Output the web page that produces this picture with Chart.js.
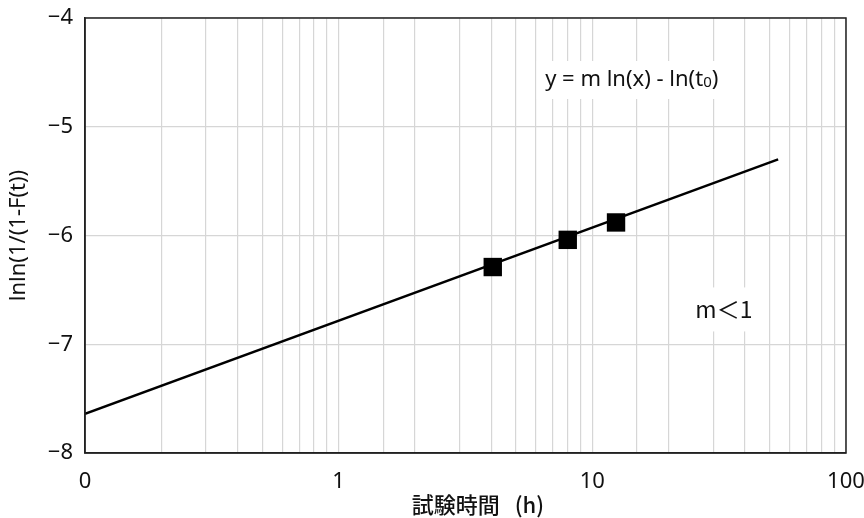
<!DOCTYPE html>
<html>
<head>
<meta charset="utf-8">
<script src="https://cdn.jsdelivr.net/npm/chart.js@4/dist/chart.umd.min.js"></script>
<style>
  html, body { margin: 0; padding: 0; background: #fff; }
  #wrap { width: 864px; height: 518px; }
</style>
</head>
<body>
<div id="wrap"><canvas id="chart"></canvas></div>
<script>
// fitted line (two end points)
const lineX = [0.1, 54];
const lineY = [-7.64, -5.3];

// measured points
const pointX = [4.05, 8.0, 12.4];
const pointY = [-6.29, -6.04, -5.88];

const xLabels = { 0.1: '0', 1: '1', 10: '10', 100: '100' };
const yTicks = [-8, -7, -6, -5, -4];

const FONT = '"Noto Sans", "Noto Sans CJK JP", sans-serif';
const FONT_JP = '"Noto Sans CJK JP", "Noto Sans", sans-serif';

// text boxes drawn over the grid with a white background
const notes = [
    { x: 14.3, y: -4.57, size: 22 },
    { x: 33, y: -6.68, size: 23 }
];

const notesPlugin = {
    id: 'notes',
    afterDatasetsDraw(chart) {
        const { ctx, chartArea, scales } = chart;
        ctx.save();

        // equation box
        let px = scales.x.getPixelForValue(notes[0].x);
        let py = scales.y.getPixelForValue(notes[0].y);
        ctx.fillStyle = '#fff';
        ctx.fillRect(px - 95, py - 19, 190, 38);
        ctx.fillStyle = '#111';
        ctx.textBaseline = 'middle';
        ctx.font = notes[0].size + 'px ' + FONT;
        const part1 = 'y = m ln(x) - ln(t';
        const w1 = ctx.measureText(part1).width;
        ctx.font = '15px ' + FONT;
        const w0 = ctx.measureText('0').width;
        ctx.font = notes[0].size + 'px ' + FONT;
        const w2 = ctx.measureText(')').width;
        let sx = px - (w1 + w0 + w2) / 2;
        ctx.textAlign = 'left';
        ctx.fillText(part1, sx, py);
        ctx.font = '15px ' + FONT;
        ctx.fillText('0', sx + w1, py + 3);
        ctx.font = notes[0].size + 'px ' + FONT;
        ctx.fillText(')', sx + w1 + w0, py);

        // m < 1 box
        px = scales.x.getPixelForValue(notes[1].x);
        py = scales.y.getPixelForValue(notes[1].y);
        ctx.fillStyle = '#fff';
        ctx.fillRect(px - 42, py - 22, 84, 44);
        ctx.fillStyle = '#111';
        ctx.textAlign = 'center';
        ctx.font = notes[1].size + 'px ' + FONT_JP;
        ctx.fillText('m＜1', px, py);

        // frame around plot area
        ctx.strokeStyle = '#222';
        ctx.lineWidth = 1.5;
        ctx.strokeRect(chartArea.left, chartArea.top,
            chartArea.right - chartArea.left, chartArea.bottom - chartArea.top);
        ctx.restore();
    }
};

new Chart(document.getElementById('chart'), {
    type: 'scatter',
    data: {
        datasets: [{
            type: 'line',
            data: lineX.map((x, i) => ({ x: x, y: lineY[i] })),
            borderColor: '#000',
            borderWidth: 2.5,
            pointRadius: 0,
            fill: false
        }, {
            data: pointX.map((x, i) => ({ x: x, y: pointY[i] })),
            pointStyle: 'rect',
            pointRadius: 13,
            backgroundColor: '#000',
            borderColor: '#000',
            borderWidth: 0
        }]
    },
    plugins: [notesPlugin],
    options: {
        responsive: true,
        maintainAspectRatio: false,
        animation: false,
        layout: { padding: { top: 18, right: 18, left: 0, bottom: 0 } },
        plugins: {
            legend: { display: false },
            tooltip: { enabled: false }
        },
        scales: {
            x: {
                type: 'logarithmic',
                min: 0.1,
                max: 100,
                grid: { color: '#d6d6d6', lineWidth: 1.2, drawTicks: false },
                border: { color: '#222', width: 1.5 },
                ticks: {
                    autoSkip: false,
                    maxRotation: 0,
                    padding: 16,
                    color: '#111',
                    font: { family: FONT, size: 22 },
                    callback: v => xLabels[v] !== undefined ? xLabels[v] : ''
                },
                title: {
                    display: true,
                    // leading spaces nudge the title right, as in the original
                    text: '     試験時間   (h)',
                    color: '#111',
                    font: { family: FONT_JP, size: 22, weight: '500' },
                    padding: { top: 0, bottom: 0 }
                },
                afterFit: s => { s.height = 65; s.paddingLeft = 0; s.paddingRight = 0; }
            },
            y: {
                min: -8,
                max: -4,
                afterBuildTicks: s => { s.ticks = yTicks.map(v => ({ value: v })); },
                grid: { color: '#d6d6d6', lineWidth: 1.2, drawTicks: false },
                border: { color: '#222', width: 1.5 },
                ticks: {
                    padding: 12,
                    color: '#111',
                    font: { family: FONT, size: 22 },
                    callback: v => '\u2212' + Math.abs(v)
                },
                title: {
                    display: true,
                    text: 'lnln(1/(1-F(t))',
                    color: '#111',
                    font: { family: FONT, size: 22 },
                    padding: { top: 6, bottom: 0 }
                },
                afterFit: s => { s.width = 85; s.paddingTop = 0; s.paddingBottom = 0; }
            }
        }
    }
});
</script>
</body>
</html>
